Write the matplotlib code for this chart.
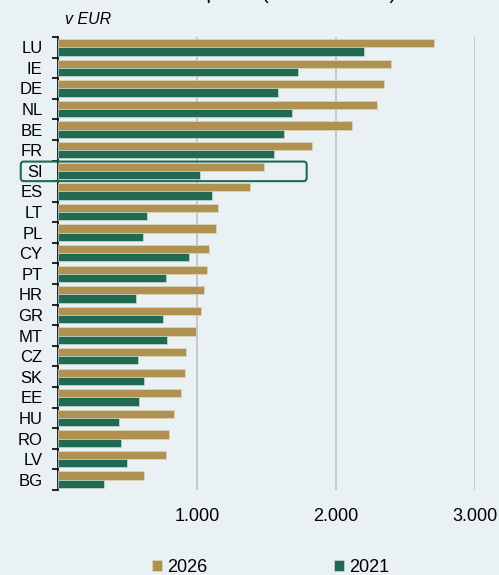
import matplotlib
matplotlib.use("Agg")
import matplotlib.pyplot as plt
import matplotlib.patches as mpatches
import numpy as np

plt.rcParams['font.family'] = ['Liberation Sans', 'DejaVu Sans']

countries = ['LU', 'IE', 'DE', 'NL', 'BE', 'FR', 'SI', 'ES', 'LT', 'PL', 'CY',
             'PT', 'HR', 'GR', 'MT', 'CZ', 'SK', 'EE', 'HU', 'RO', 'LV', 'BG']
val_2026 = [2707, 2393, 2343, 2297, 2113, 1825, 1484, 1381, 1151, 1139, 1086,
            1074, 1050, 1027, 993, 923, 914, 885, 837, 796, 780, 617]
val_2021 = [2204, 1724, 1585, 1686, 1626, 1556, 1022, 1108, 640, 614, 940,
            775, 564, 755, 782, 576, 621, 583, 441, 456, 499, 329]
xticks = [1000, 2000, 3000]
xtick_labels = ['1.000', '2.000', '3.000']

bg = '#eaf1f5'
gold = '#b0914f'
green = '#1f6a50'

fig = plt.figure(figsize=(4.99, 5.75), dpi=100)
fig.patch.set_facecolor(bg)
ax = fig.add_axes([58/499, 1 - 490/575, 417/499, 453/575])
ax.set_facecolor(bg)

y = np.arange(len(countries))
ax.barh(y - 0.2, val_2026, height=0.4, color=gold, edgecolor='#ddd6c0',
        linewidth=0.5, label='2026', zorder=3)
ax.barh(y + 0.2, val_2021, height=0.4, color=green, edgecolor='#c9dcd4',
        linewidth=0.5, label='2021', zorder=3)

ax.set_xlim(0, 3000)
ax.set_ylim(len(countries) - 0.5, -0.5)

# gridlines
for xv in xticks:
    ax.axvline(xv, color='#b8bcbf', linewidth=1.1, zorder=1)

ax.set_xticks(xticks)
ax.set_xticklabels(xtick_labels, fontsize=13)
ax.tick_params(axis='x', length=0, pad=13)

ax.set_yticks(y)
ax.set_yticklabels(countries, fontsize=12)
ax.tick_params(axis='y', which='major', length=0, pad=11)
ax.set_yticks(np.arange(-0.5, len(countries)), minor=True)
ax.tick_params(axis='y', which='minor', length=4, width=1.2, color='black')

for side in ['top', 'right', 'bottom']:
    ax.spines[side].set_visible(False)
ax.spines['left'].set_linewidth(1.2)

# highlight box around SI
si = countries.index('SI')
box = mpatches.FancyBboxPatch((-268, si - 0.45), 2057, 0.95,
                              boxstyle='round,pad=0,rounding_size=22',
                              mutation_aspect=1/140,
                              facecolor='none', edgecolor=green, linewidth=1.5,
                              clip_on=False, zorder=5)
ax.add_patch(box)

fig.text(65/499, 1 - 20/575, 'v EUR', fontsize=11.5, style='italic', va='center')
fig.text(105/499, 1.001, 'Minimalne plače (2021 in 2026)', fontsize=15,
         va='baseline', ha='left')

fig.legend(loc='center left', bbox_to_anchor=(152/499, 1 - 567/575), ncol=2,
           frameon=False, fontsize=13, handlelength=0.55, handleheight=0.55,
           handletextpad=0.3, columnspacing=7.0, borderaxespad=0, borderpad=0)

fig.savefig('out.png', dpi=100, facecolor=bg)
